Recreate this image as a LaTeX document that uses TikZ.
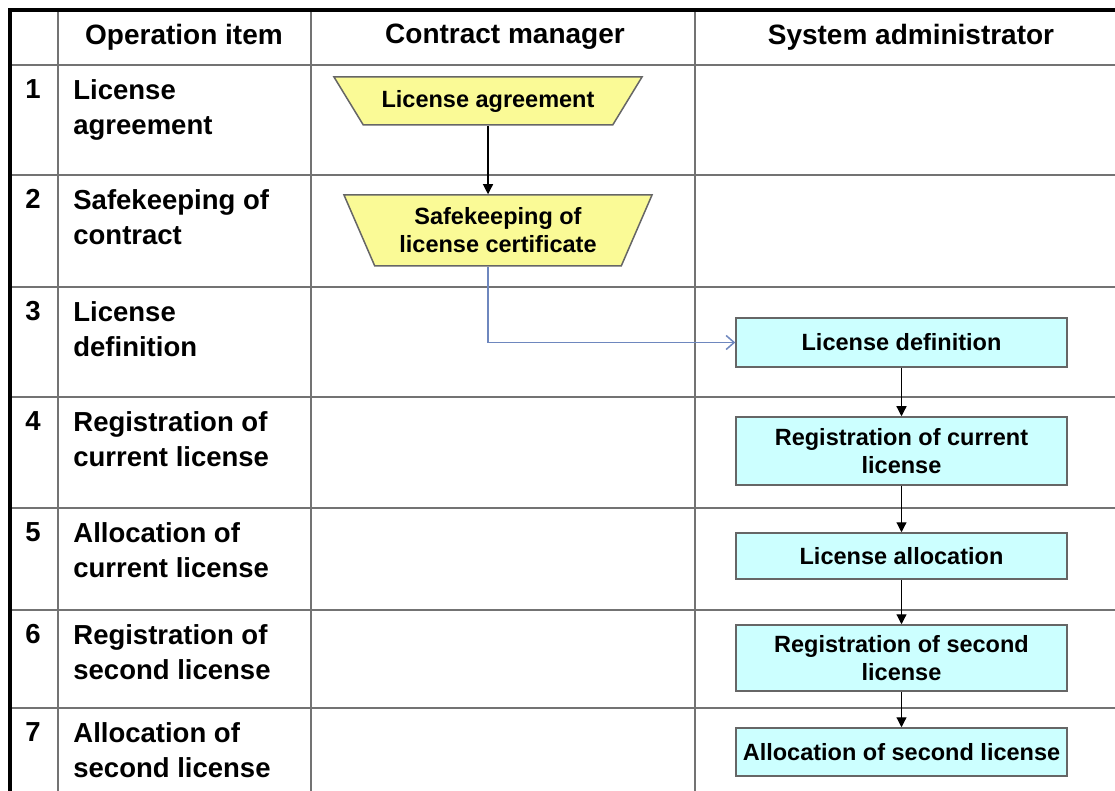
\documentclass[tikz,border=0pt]{standalone}
\usepackage{fontspec}
\setmainfont{Liberation Sans}
\usetikzlibrary{shapes.geometric,arrows.meta}
\definecolor{padyellow}{RGB}{250,250,150}
\definecolor{padcyan}{RGB}{204,255,255}
\definecolor{flowblue}{RGB}{110,135,190}
\tikzset{
  gridline/.style={draw=black!55, line width=1pt},
  headlabel/.style={font=\fontsize{14}{17}\selectfont\bfseries, inner sep=0pt},
  rowlabel/.style={anchor=north west, align=left, inner sep=0pt,
    font=\fontsize{13.75}{17.5}\selectfont\bfseries},
  managerbox/.style={trapezium, shape border rotate=180, trapezium stretches body,
    draw=black!60, line width=0.75pt, fill=padyellow, align=center,
    minimum width=154pt, inner sep=1pt, font=\fontsize{11.75}{14}\selectfont\bfseries},
  adminbox/.style={rectangle, draw=black!60, line width=0.75pt, fill=padcyan,
    align=center, minimum width=165.5pt, inner sep=1pt,
    font=\fontsize{11.75}{14}\selectfont\bfseries},
  flow/.style={-{Triangle[length=5pt,width=5pt]}, line width=0.6pt},
}
\begin{document}
\begin{tikzpicture}[x=0.5pt,y=-0.5pt]
\useasboundingbox (0,0) rectangle (1115,791);
% table
\foreach \y in {65,175,287,397,508,610,708}
  \draw[gridline] (10,\y) -- (1115,\y);
\foreach \x in {58,311,695}
  \draw[gridline] (\x,10) -- (\x,791);
\draw[line width=1.6pt] (10,791) -- (10,10) -- (1115,10);
% header
\node[headlabel] (hitem) at (184,37) {Operation item};
\node[headlabel] (hmanager) at (505,37) {Contract manager};
\node[headlabel] (hadmin) at (911,37) {System administrator};
% operation items
\foreach \n/\y/\txt in {1/65/{License\\agreement}, 2/175/{Safekeeping of\\contract},
    3/287/{License\\definition}, 4/397/{Registration of\\current license},
    5/508/{Allocation of\\current license}, 6/610/{Registration of\\second license},
    7/708/{Allocation of\\second license}} {
  \node[rowlabel] (num\n) at (25,\y+14) {\n};
  \node[rowlabel] (item\n) at (73,\y+14) {\txt};
}
% contract manager
\node[managerbox, trapezium angle=41.6, minimum height=24pt] (agree) at (488,101) {License agreement};
\node[managerbox, trapezium angle=58, minimum height=35.5pt] (keep) at (498,230.5) {Safekeeping of\\license certificate};
% system administrator
\node[adminbox, minimum height=24.5pt] (define) at (901.5,342.5) {License definition};
\node[adminbox, minimum height=34pt] (regcur) at (901.5,451) {Registration of current\\license};
\node[adminbox, minimum height=23pt] (alloccur) at (901.5,556) {License allocation};
\node[adminbox, minimum height=33pt] (regsec) at (901.5,658) {Registration of second\\license};
\node[adminbox, minimum height=24pt] (allocsec) at (901.5,752) {Allocation of second license};
% flow
\draw[flow] (agree.south) -- (agree.south |- keep.north);
\draw[flowblue, line width=0.75pt, -{Straight Barb[length=4pt,width=7pt]}] (keep.south -| agree.south) |- (define.west);
\draw[flow] (define) -- (regcur);
\draw[flow] (regcur) -- (alloccur);
\draw[flow] (alloccur) -- (regsec);
\draw[flow] (regsec) -- (allocsec);
\end{tikzpicture}
\end{document}
